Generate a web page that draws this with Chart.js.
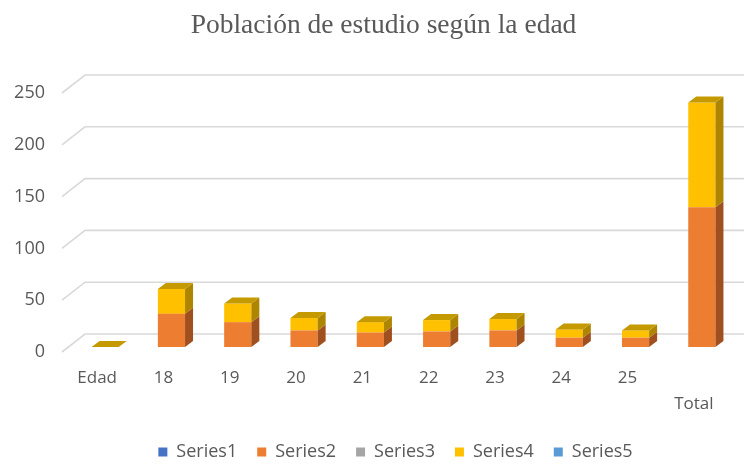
<!DOCTYPE html>
<html>
<head>
<meta charset="utf-8">
<script src="https://cdn.jsdelivr.net/npm/chart.js@4.4.0/dist/chart.umd.min.js"></script>
<style>
  html, body { margin: 0; padding: 0; background: #fff; }
  #wrap { width: 744px; height: 466px; }
</style>
</head>
<body>
<div id="wrap"><canvas id="myChart"></canvas></div>
<script>
const categories = ['Edad', '18', '19', '20', '21', '22', '23', '24', '25', 'Total'];
const series1 = [0, 0, 0, 0, 0, 0, 0, 0, 0, 0];
const series2 = [0, 32, 24, 16, 14, 15, 16, 9, 9, 135];
const series3 = [0, 0, 0, 0, 0, 0, 0, 0, 0, 0];
const series4 = [0, 24, 18, 12, 10, 11, 11, 8, 7, 101];
const series5 = [0, 0, 0, 0, 0, 0, 0, 0, 0, 0];
const yTicks = [0, 50, 100, 150, 200, 250];

const textColor = '#595959';
const DX = 8, DY = 6; // 3d depth of the columns
const sideColors = ['#2f5597', '#a0501f', '#7b7b7b', '#ad8500', '#3f76a8'];
const topColors = ['#3a64ad', '#c0601f', '#8f8f8f', '#c49a00', '#4a86bd'];

// back wall grid with the diagonal "floor" edge on the left
const wallGrid = {
  id: 'wallGrid',
  beforeDatasetsDraw(chart) {
    const {ctx, scales: {y}, chartArea} = chart;
    ctx.save();
    ctx.strokeStyle = '#d9d9d9';
    ctx.lineWidth = 1.6;
    yTicks.forEach(v => {
      const py = y.getPixelForValue(v);
      ctx.beginPath();
      ctx.moveTo(chartArea.left - 2, py);
      ctx.lineTo(chartArea.left + 21, py - 18);
      ctx.lineTo(chart.width, py - 18);
      ctx.stroke();
    });
    ctx.restore();
    // bars sit a bit behind the front edge
    ctx.save();
    ctx.translate(8, -5);
  },
  afterDatasetsDraw(chart) {
    const {ctx} = chart;
    chart.data.datasets.forEach((ds, i) => {
      const meta = chart.getDatasetMeta(i);
      meta.data.forEach(bar => {
        const right = bar.x + bar.width / 2;
        const left = bar.x - bar.width / 2;
        const top = Math.min(bar.y, bar.base);
        const bottom = Math.max(bar.y, bar.base);
        if (bottom - top > 0.5) {
          ctx.fillStyle = sideColors[i];
          ctx.beginPath();
          ctx.moveTo(right, top);
          ctx.lineTo(right + DX, top - DY);
          ctx.lineTo(right + DX, bottom - DY);
          ctx.lineTo(right, bottom);
          ctx.closePath();
          ctx.fill();
        }
        if (i === 3) {
          ctx.fillStyle = topColors[i];
          ctx.beginPath();
          ctx.moveTo(left, top);
          ctx.lineTo(left + DX, top - DY);
          ctx.lineTo(right + DX, top - DY);
          ctx.lineTo(right, top);
          ctx.closePath();
          ctx.fill();
        }
      });
    });
    ctx.restore();
  },
  afterLayout(chart) {
    chart.legend.top += 5;
    chart.legend.bottom += 5;
    chart.legend.left += 32;
    chart.legend.right += 32;
    chart.titleBlock.left += 20;
    chart.titleBlock.right += 20;
  }
};

const ctx = document.getElementById('myChart').getContext('2d');

const myChart = new Chart(ctx, {
  type: 'bar',
  data: {
    labels: categories,
    datasets: [
      {label: 'Series1', data: series1, backgroundColor: '#4472c4'},
      {label: 'Series2', data: series2, backgroundColor: '#ed7d31'},
      {label: 'Series3', data: series3, backgroundColor: '#a5a5a5'},
      {label: 'Series4', data: series4, backgroundColor: '#ffc000'},
      {label: 'Series5', data: series5, backgroundColor: '#5b9bd5'}
    ]
  },
  options: {
    responsive: true,
    maintainAspectRatio: false,
    animation: false,
    layout: { padding: { left: 0, right: 17, top: 0, bottom: 0 } },
    datasets: {
      bar: { categoryPercentage: 1, barPercentage: 0.41, borderWidth: 0 }
    },
    scales: {
      x: {
        stacked: true,
        grid: { display: false, drawTicks: false },
        border: { display: false },
        ticks: {
          color: textColor,
          padding: 13,
          font: { family: '"Open Sans"', size: 17, lineHeight: 1.55 },
          maxRotation: 0,
          callback(value) {
            const lab = categories[value];
            return lab === 'Total' ? ['', lab] : lab;
          }
        },
        afterFit(scale) { scale.height = 66; }
      },
      y: {
        stacked: true,
        min: 0,
        max: 250,
        grid: { display: false, drawTicks: false },
        border: { display: false },
        ticks: {
          stepSize: 50,
          color: textColor,
          padding: 19,
          font: { family: '"Open Sans"', size: 18 }
        },
        afterFit(scale) { scale.width = 64; }
      }
    },
    plugins: {
      title: {
        display: true,
        text: 'Población de estudio según la edad',
        color: textColor,
        font: { family: '"Liberation Serif"', size: 27.5, weight: 'normal' },
        padding: { top: 9, bottom: 51 }
      },
      legend: {
        position: 'bottom',
        labels: {
          color: textColor,
          boxWidth: 9,
          boxHeight: 9,
          padding: 20,
          font: { family: '"Open Sans"', size: 18 }
        }
      },
      tooltip: { enabled: false }
    }
  },
  plugins: [wallGrid]
});
</script>
</body>
</html>
